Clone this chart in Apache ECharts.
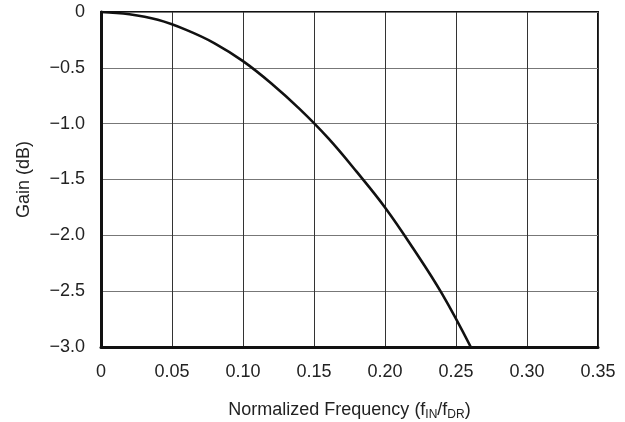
<!DOCTYPE html>
<html>
<head>
<meta charset="utf-8">
<script src="https://cdn.jsdelivr.net/npm/echarts@6/dist/echarts.min.js"></script>
<style>
  html, body { margin: 0; padding: 0; background: #fff; }
  #chart { width: 625px; height: 422px; }
</style>
</head>
<body>
<div id="chart"></div>
<script>
// normalized frequency (fIN/fDR) and gain (dB)
var freq = [0, 0.02, 0.04, 0.06, 0.08, 0.10, 0.12, 0.14, 0.16, 0.18, 0.20, 0.22, 0.24, 0.2604];
var gain = [0, -0.02, -0.07, -0.16, -0.28, -0.44, -0.64, -0.87, -1.13, -1.43, -1.75, -2.12, -2.52, -3.0];

var xTickLabels = ['0', '0.05', '0.10', '0.15', '0.20', '0.25', '0.30', '0.35'];
var yTickLabels = ['\u22123.0', '\u22122.5', '\u22122.0', '\u22121.5', '\u22121.0', '\u22120.5', '0'];

var font = '"Liberation Sans", Arial, Helvetica, sans-serif';

var myChart = echarts.init(document.getElementById('chart'));
var option;
option = {
  backgroundColor: '#fff',
  animation: false,
  textStyle: { fontFamily: font, color: '#222' },
  grid: {
    left: 101,
    right: 27,
    top: 12,
    bottom: 75,
    containLabel: false,
    outerBoundsMode: 'none',
    show: true,
    borderColor: '#111',
    borderWidth: 2
  },
  xAxis: {
    type: 'value',
    min: 0,
    max: 0.35,
    interval: 0.05,
    name: 'Normalized Frequency (f{sub|IN}/f{sub|DR})',
    nameLocation: 'middle',
    nameGap: 53,
    nameTextStyle: {
      fontSize: 18,
      color: '#222',
      fontFamily: font,
      rich: {
        sub: { fontSize: 12, color: '#222', fontFamily: font, verticalAlign: 'bottom', padding: [9, 0, 0, 0] }
      }
    },
    axisLine: { show: true, onZero: false, lineStyle: { color: '#111', width: 3 } },
    axisTick: { show: false },
    axisLabel: {
      fontSize: 18,
      color: '#222',
      margin: 16,
      formatter: function (value, index) { return xTickLabels[index]; }
    },
    splitLine: { show: true, lineStyle: { color: '#333', width: 1 } }
  },
  yAxis: {
    type: 'value',
    min: -3,
    max: 0,
    interval: 0.5,
    name: 'Gain (dB)',
    nameLocation: 'middle',
    nameGap: 68,
    nameTextStyle: { fontSize: 18, color: '#222', fontFamily: font },
    axisLine: { show: true, onZero: false, lineStyle: { color: '#111', width: 3 } },
    axisTick: { show: false },
    axisLabel: {
      fontSize: 18,
      color: '#222',
      margin: 16,
      formatter: function (value, index) { return yTickLabels[index]; }
    },
    splitLine: { show: true, lineStyle: { color: '#777', width: 1.2 } }
  },
  series: [
    {
      type: 'line',
      data: freq.map(function (f, i) { return [f, gain[i]]; }),
      smooth: 0.4,
      showSymbol: false,
      lineStyle: { color: '#111', width: 2.6 }
    }
  ]
};
option && myChart.setOption(option);
</script>
</body>
</html>
